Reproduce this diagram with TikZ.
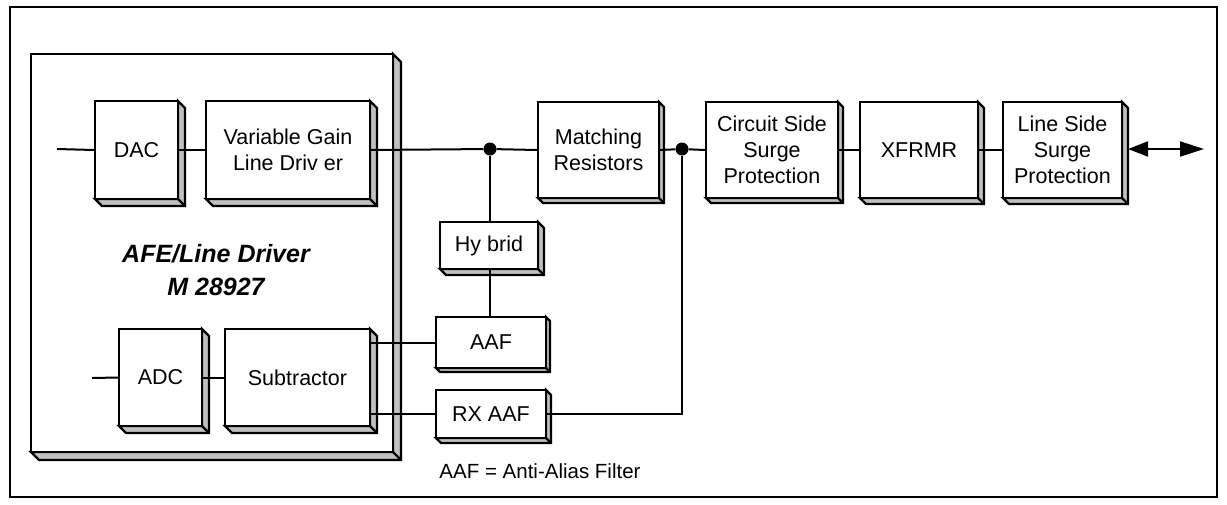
\documentclass[tikz,border=0pt]{standalone}
\usepackage{fontspec}
\setmainfont{Liberation Sans}
\usetikzlibrary{arrows.meta,calc}
\definecolor{shadecol}{HTML}{C0C0C0}
\tikzset{
  boxline/.style={line width=2.2pt, line join=miter},
  blk/.style={draw, boxline, fill=white, inner sep=0pt, align=center,
    font=\fontsize{21.5}{26}\selectfont},
  wire/.style={line width=2pt},
  junc/.style={circle, fill=black, inner sep=0pt, minimum size=13pt},
}
% #1 name, #2 x1, #3 y1, #4 x2, #5 y2, #6 depth, #7 text
\newcommand{\blkbox}[7]{%
  \filldraw[boxline, fill=shadecol] (#4,#3) -- (#4+#6,#3+#6) -- (#4+#6,#5+#6) -- (#2+#6,#5+#6) -- (#2,#5) -- (#4,#5) -- cycle;
  \draw[boxline] (#4,#5) -- (#4+#6,#5+#6);
  \node[blk, minimum width=#4pt-#2pt, minimum height=#5pt-#3pt] (#1) at ({(#2+#4)/2},{(#3+#5)/2}) {#7};
}
\begin{document}
\begin{tikzpicture}[x=1pt,y=-1pt]
\useasboundingbox (0,0) rectangle (1227,504);
\node[draw, line width=2.2pt, minimum width=1207pt, minimum height=490pt, inner sep=0pt] (frame) at (613.5,252) {};
% AFE chip
\blkbox{afe}{31}{54}{393}{452}{8}{}
\node[font=\fontsize{25}{33}\selectfont\bfseries\itshape, align=center] (afelabel) at (216,270) {AFE/Line Driver\\M 28927};
% blocks
\blkbox{dac}{95}{101}{178}{199}{7}{DAC}
\blkbox{vgld}{206}{101}{370}{199}{7}{Variable Gain\\Line Driv er}
\blkbox{adc}{119}{329}{202}{426}{7}{ADC}
\blkbox{sub}{225}{329}{370}{426}{7}{Subtractor}
\blkbox{hyb}{440}{222}{538}{269}{6}{Hy brid}
\blkbox{match}{538}{102}{659}{198}{5}{Matching\\Resistors}
\blkbox{css}{706}{102}{838}{198}{5}{Circuit Side\\Surge\\Protection}
\blkbox{xfr}{860}{102}{978}{198}{6}{XFRMR}
\blkbox{lss}{1003}{102}{1122}{198}{6}{Line Side\\Surge\\Protection}
\blkbox{aaf}{436}{317}{546}{368}{4}{AAF}
\blkbox{rxaaf}{436}{390}{546}{438}{5}{RX AAF}
% junctions and free ends
\node[junc] (j1) at (490,149) {};
\node[junc] (j2) at (682,149) {};
\coordinate (in1) at (57,149);
\coordinate (in2) at (92,378);
\coordinate (lsout) at (1128,149);
\coordinate (lineend) at (1204,149);
% connectors
\draw[wire] (in1) -- (dac.west);
\draw[wire] (dac.east) -- (vgld.west);
\draw[wire] (vgld.east) -- (j1) -- (match.west);
\draw[wire] (j1) -- (j1 |- hyb.north);
\draw[wire] (j1 |- hyb.south) -- (j1 |- aaf.north);
\draw[wire] (match.east) -- (j2) -- (css.west);
\draw[wire] (css.east) -- (xfr.west);
\draw[wire] (xfr.east) -- (lss.west);
\draw[wire, {Triangle[length=20pt,width=15pt]}-{Triangle[length=24pt,width=15pt]}] (lsout) -- (lineend);
\draw[wire] (in2) -- (adc.west);
\draw[wire] (adc.east) -- (sub.west);
\draw[wire] (aaf.west -| sub.east) -- (aaf.west);
\draw[wire] (rxaaf.west -| sub.east) -- (rxaaf.west);
\draw[wire] (rxaaf.east) -| (j2);
\node[font=\fontsize{20.5}{24}\selectfont] (note) at (540,471) {AAF = Anti-Alias Filter};
\end{tikzpicture}
\end{document}
